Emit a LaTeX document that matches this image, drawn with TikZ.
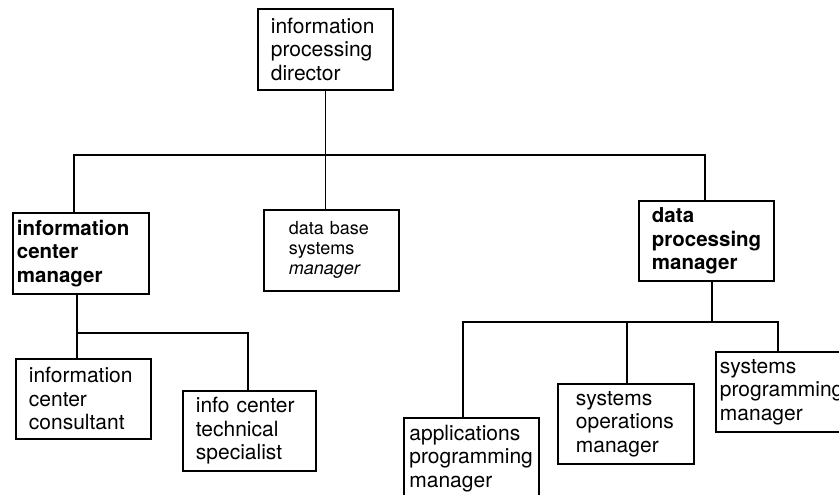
\documentclass[tikz,border=0pt]{standalone}
\usepackage{fontspec}
\setmainfont{TeX Gyre Heros}
\hyphenpenalty=10000
\exhyphenpenalty=10000
\begin{document}
\begin{tikzpicture}[x=1pt,y=-1pt,line width=1.8pt,
  box/.style={draw, anchor=north west, align=left, inner ysep=0pt,
    font=\fontsize{21}{23.5}\selectfont},
  boldbox/.style={box, font=\fontsize{20.5}{23.5}\selectfont\bfseries},
  smallbox/.style={box, font=\fontsize{18}{20}\selectfont}]
\useasboundingbox (0,0) rectangle (839,495);
\clip (0,0) rectangle (839,495);

% boxes
\node[box, minimum height=81pt, inner xsep=13pt, text width=109pt] (dir) at (257,8) {information\\processing\\director};
\node[boldbox, minimum height=81pt, inner xsep=4pt, text width=128pt] (icm) at (12,212) {information\\center\\manager};
\node[smallbox, minimum height=81pt, inner xsep=25pt, text width=85pt] (dbm) at (263,209) {data base\\systems\\\textit{manager}};
\node[boldbox, minimum height=80pt, inner xsep=13pt, text width=109pt] (dpm) at (638,200) {data\\processing\\manager};
\node[box, minimum height=80pt, inner xsep=13pt, text width=109pt] (icc) at (15,358) {information\\center\\consultant};
\node[box, minimum height=80pt, inner xsep=13pt, text width=107pt] (ics) at (182,390) {info center\\technical\\specialist};
\node[box, minimum height=81pt, inner xsep=5.5pt, text width=124pt] (apm) at (403,417) {applications\\programming\\manager};
\node[box, minimum height=80pt, inner xsep=18pt, text width=100pt] (spo) at (557,383) {systems\\operations\\manager};
\node[box, minimum height=80pt, inner xsep=4pt, text width=127pt] (spm) at (715,351) {systems\\programming\\manager};

% connector points
\coordinate (h1L) at (74,155);
\coordinate (h1R) at (705,155);
\coordinate (h2L) at (77,333);
\coordinate (h2R) at (248,333);
\coordinate (h3L) at (463,322);
\coordinate (h3M) at (627,322);
\coordinate (h3T) at (712,322);
\coordinate (h3R) at (778,322);

% connectors
\draw (dir.south) -- (dir.south |- dbm.north);
\draw (icm.north -| h1L) -- (h1L) -- (h1R) -- (dpm.north -| h1R);
\draw (icm.south -| h2L) -- (icc.north -| h2L);
\draw (h2L) -- (h2R) -- (ics.north -| h2R);
\draw (dpm.south -| h3T) -- (h3T);
\draw (apm.north -| h3L) -- (h3L) -- (h3R) -- (spm.north -| h3R);
\draw (h3M) -- (spo.north -| h3M);
\end{tikzpicture}
\end{document}
